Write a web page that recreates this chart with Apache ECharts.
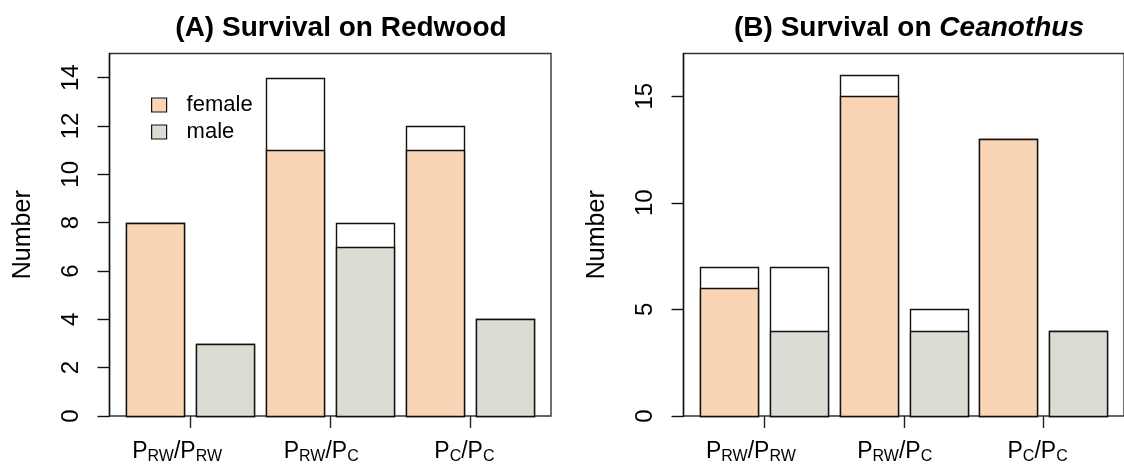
<!DOCTYPE html>
<html><head><meta charset="utf-8">
<script src="https://cdn.jsdelivr.net/npm/echarts@6/dist/echarts.min.js"></script>
<style>html,body{margin:0;padding:0;background:#fff;} #c{width:1124px;height:472px;}</style>
</head><body><div id="c"></div>
<script>
// ---- data ----
const groups = ['PRW/PRW', 'PRW/PC', 'PC/PC'];
const groupSubs = [['RW', 'RW'], ['RW', 'C'], ['C', 'C']];
const yTicksA = [0, 2, 4, 6, 8, 10, 12, 14];
const yTicksB = [0, 5, 10, 15];
const yMaxA = 15;
const yMaxB = 17;
const femaleAliveA = [8, 11, 11];
const femaleTotalA = [8, 14, 12];
const maleAliveA = [3, 7, 4];
const maleTotalA = [3, 8, 4];
const femaleAliveB = [6, 15, 13];
const femaleTotalB = [7, 16, 13];
const maleAliveB = [4, 4, 4];
const maleTotalB = [7, 5, 4];

// ---- layout (R barplot style: width 1, space 0.2) ----
const BAR_W = 1, SPACE = 0.2;
const nBars = groups.length * 2;
const xLo = SPACE, xHi = nBars * (BAR_W + SPACE);
const ext = (xHi - xLo) * 0.04;
function barCenter(g, s) { return SPACE + (2 * g + s) * (BAR_W + SPACE) + BAR_W / 2; }
const groupCenters = groups.map((_, g) => (barCenter(g, 0) + barCenter(g, 1)) / 2);

const FEMALE = '#F9D5B5', MALE = '#DCDCD4';
const FONT = 'Liberation Sans, Arial, Helvetica, sans-serif';
const labelShift = [26, 18, 12];

function seriesData(values, s) { return values.map((v, g) => [barCenter(g, s), v]); }

function renderBar(fill) {
  return function (params, api) {
    const x = api.value(0), y = api.value(1);
    const p0 = api.coord([x - BAR_W / 2, y]);
    const p1 = api.coord([x + BAR_W / 2, 0]);
    return {
      type: 'rect',
      shape: { x: Math.round(p0[0]) + 0.5, y: Math.round(p0[1]) + 0.5, width: Math.round(p1[0] - p0[0]), height: Math.round(p1[1]) - Math.round(p0[1]) },
      style: { fill: fill, stroke: '#111', lineWidth: 1.4 }
    };
  };
}

function xLabelFormatter(value) {
  let g = 0, best = Infinity;
  groupCenters.forEach((c, i) => { const d = Math.abs(c - value); if (d < best) { best = d; g = i; } });
  const sb = groupSubs[g];
  return '{p|P}{s|' + sb[0] + '}{p|/P}{e' + g + '|' + sb[1] + '}';
}
const subStyle = { fontSize: 16, fontFamily: FONT, color: '#000', verticalAlign: 'bottom', lineHeight: 17 };
const xRich = {
  p: { fontSize: 23, fontFamily: FONT, color: '#000', verticalAlign: 'bottom', lineHeight: 23, padding: [0, 0, 2, 0] },
  s: subStyle,
  e0: Object.assign({}, subStyle, { padding: [0, labelShift[0], 0, 0] }),
  e1: Object.assign({}, subStyle, { padding: [0, labelShift[1], 0, 0] }),
  e2: Object.assign({}, subStyle, { padding: [0, labelShift[2], 0, 0] })
};

function makeX(gridIndex) {
  return {
    type: 'value', gridIndex: gridIndex, min: xLo - ext, max: xHi + ext,
    axisLine: { show: false },
    splitLine: { show: false },
    axisTick: { show: true, customValues: groupCenters, length: 12, lineStyle: { color: '#222', width: 1.4 } },
    axisLabel: { show: true, customValues: groupCenters, margin: 26, formatter: xLabelFormatter, rich: xRich }
  };
}
function makeY(gridIndex, max, ticks) {
  return {
    type: 'value', gridIndex: gridIndex, min: 0, max: max,
    name: 'Number', nameLocation: 'middle', nameRotate: 90, nameGap: 74,
    nameTextStyle: { fontSize: 25, fontFamily: FONT, color: '#000' },
    axisLine: { show: true, onZero: false, lineStyle: { color: '#111', width: 1.4 } },
    splitLine: { show: false },
    axisTick: { show: true, customValues: ticks, length: 12, lineStyle: { color: '#111', width: 1.4 } },
    axisLabel: { show: true, customValues: ticks, rotate: 90, margin: 26, fontSize: 24, fontFamily: FONT, color: '#000' }
  };
}
function barSeries(name, values, s, fill, axisIdx, z) {
  return {
    type: 'custom', name: name, xAxisIndex: axisIdx, yAxisIndex: axisIdx, z: z,
    data: seriesData(values, s), renderItem: renderBar(fill),
    itemStyle: { color: fill, borderColor: '#111' }, encode: { x: 0, y: 1 }
  };
}

const chart = echarts.init(document.getElementById('c'), null, { renderer: 'canvas' });
chart.setOption({
  animation: false,
  backgroundColor: '#fff',
  title: [
    { text: '(A) Survival on Redwood', left: 336, top: 9, textAlign: 'center',
      textStyle: { fontSize: 28, fontWeight: 'bold', fontFamily: FONT, color: '#000' } },
    { text: '(B) Survival on {i|Ceanothus}', left: 904, top: 9, textAlign: 'center',
      textStyle: { fontSize: 28, fontWeight: 'bold', fontFamily: FONT, color: '#000',
        rich: { i: { fontSize: 28, fontWeight: 'bold', fontStyle: 'italic', fontFamily: FONT, color: '#000' } } } }
  ],
  legend: {
    orient: 'vertical', left: 151, top: 94, padding: 0, itemWidth: 15, itemHeight: 14, itemGap: 5,
    icon: 'rect', selectedMode: false,
    textStyle: { fontSize: 22, fontFamily: FONT, color: '#000', padding: [0, 0, 0, 15] },
    data: [
      { name: 'female', itemStyle: { color: FEMALE, borderColor: '#111', borderWidth: 1.2 } },
      { name: 'male', itemStyle: { color: MALE, borderColor: '#111', borderWidth: 1.2 } }
    ]
  },
  grid: [
    { left: 109.5, top: 53.5, width: 441.5, height: 362.5, show: true, borderColor: '#333', borderWidth: 1.4, backgroundColor: 'transparent' },
    { left: 683.5, top: 53.5, width: 441.5, height: 362.5, show: true, borderColor: '#333', borderWidth: 1.4, backgroundColor: 'transparent' }
  ],
  xAxis: [makeX(0), makeX(1)],
  yAxis: [makeY(0, yMaxA, yTicksA), makeY(1, yMaxB, yTicksB)],
  series: [
    barSeries('femaleTotalA', femaleTotalA, 0, '#fff', 0, 2),
    barSeries('maleTotalA', maleTotalA, 1, '#fff', 0, 2),
    barSeries('female', femaleAliveA, 0, FEMALE, 0, 3),
    barSeries('male', maleAliveA, 1, MALE, 0, 3),
    barSeries('femaleTotalB', femaleTotalB, 0, '#fff', 1, 2),
    barSeries('maleTotalB', maleTotalB, 1, '#fff', 1, 2),
    barSeries('female', femaleAliveB, 0, FEMALE, 1, 3),
    barSeries('male', maleAliveB, 1, MALE, 1, 3)
  ]
});
</script>
</body></html>
